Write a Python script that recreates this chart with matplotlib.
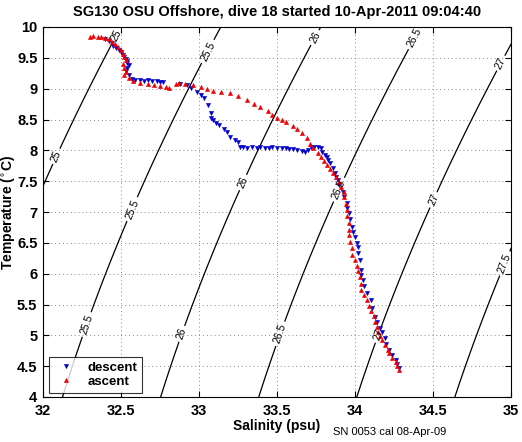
import numpy as np
import matplotlib
matplotlib.use("Agg")
import matplotlib.pyplot as plt

plt.rcParams['font.family'] = ['Liberation Sans', 'DejaVu Sans']

title = "SG130 OSU Offshore, dive 18 started 10-Apr-2011 09:04:40"
footnote = "SN 0053 cal 08-Apr-09"

# descent (surface -> deep)
desc_S = [32.40, 32.42, 32.44, 32.45, 32.47, 32.49, 32.50, 32.51, 32.52, 32.53, 32.54, 32.54, 32.55,
          32.54, 32.53, 32.55, 32.57, 32.59, 32.62, 32.65, 32.67, 32.70, 32.73, 32.75, 32.77,
          32.88, 32.92, 32.95, 32.99, 33.01, 33.03, 33.06, 33.08, 33.08, 33.09, 33.11, 33.13,
          33.16, 33.18, 33.20, 33.23, 33.25, 33.26, 33.28, 33.31, 33.34, 33.37, 33.39, 33.42,
          33.45, 33.47, 33.50, 33.53, 33.56, 33.58, 33.60, 33.63, 33.66, 33.68, 33.70, 33.72,
          33.74, 33.76, 33.78, 33.79, 33.81, 33.82, 33.83, 33.84, 33.86, 33.87, 33.88, 33.89,
          33.90, 33.92, 33.93, 33.95, 33.95, 33.96, 33.97, 33.98, 33.99, 34.00, 34.01, 34.02,
          34.02, 34.03, 34.04, 34.04, 34.05, 34.06, 34.08, 34.10, 34.11, 34.13, 34.14, 34.16,
          34.17, 34.19, 34.20, 34.22, 34.24, 34.26, 34.27, 34.28]
desc_T = [9.80, 9.77, 9.74, 9.70, 9.66, 9.63, 9.59, 9.55, 9.51, 9.48, 9.45, 9.41, 9.38,
          9.33, 9.28, 9.22, 9.16, 9.14, 9.14, 9.13, 9.14, 9.12, 9.12, 9.11, 9.11,
          9.07, 9.06, 9.01, 8.95, 8.90, 8.85, 8.74, 8.61, 8.53, 8.49, 8.45, 8.41,
          8.35, 8.30, 8.22, 8.17, 8.14, 8.06, 8.05, 8.04, 8.05, 8.04, 8.05, 8.04,
          8.04, 8.05, 8.03, 8.03, 8.04, 8.02, 8.02, 8.01, 7.99, 7.98, 8.01, 8.05,
          8.05, 8.06, 8.04, 7.97, 7.93, 7.89, 7.84, 7.79, 7.72, 7.63, 7.56, 7.52,
          7.44, 7.32, 7.24, 7.15, 7.06, 6.98, 6.88, 6.76, 6.67, 6.59, 6.50, 6.43,
          6.34, 6.22, 6.06, 5.98, 5.90, 5.80, 5.68, 5.57, 5.45, 5.30, 5.22, 5.12,
          5.05, 4.96, 4.86, 4.76, 4.68, 4.60, 4.53, 4.47]

# ascent (deep -> surface)
asc_S = [34.28, 34.27, 34.26, 34.24, 34.22, 34.21, 34.19, 34.17, 34.16, 34.15, 34.14, 34.13,
         34.12, 34.10, 34.09, 34.08, 34.06, 34.04, 34.04, 34.03, 34.02, 34.01, 34.00, 33.98,
         33.98, 33.97, 33.96, 33.96, 33.96, 33.95, 33.95, 33.94, 33.93, 33.93, 33.91, 33.90,
         33.88, 33.86, 33.84, 33.82, 33.80, 33.78, 33.76, 33.73, 33.71, 33.69, 33.66, 33.63,
         33.60, 33.56, 33.53, 33.50, 33.47, 33.44, 33.39, 33.35, 33.31, 33.25, 33.20, 33.14,
         33.09, 33.05, 33.01, 32.96, 32.91, 32.87, 32.85, 32.81, 32.79, 32.75, 32.71, 32.67,
         32.62, 32.58, 32.55, 32.52, 32.53, 32.52, 32.51, 32.53, 32.52, 32.51, 32.50, 32.48,
         32.46, 32.44, 32.42, 32.40, 32.37, 32.35, 32.32, 32.30]
asc_T = [4.43, 4.50, 4.56, 4.63, 4.71, 4.77, 4.85, 4.92, 4.99, 5.06, 5.14, 5.22,
         5.31, 5.39, 5.47, 5.58, 5.66, 5.74, 5.84, 5.95, 6.04, 6.13, 6.22, 6.31,
         6.41, 6.52, 6.62, 6.71, 6.82, 6.93, 7.03, 7.13, 7.24, 7.32, 7.40, 7.48,
         7.56, 7.63, 7.70, 7.77, 7.83, 7.89, 7.96, 8.04, 8.11, 8.20, 8.28, 8.35,
         8.40, 8.46, 8.49, 8.52, 8.58, 8.64, 8.70, 8.75, 8.82, 8.88, 8.93, 8.94,
         8.96, 9.00, 9.03, 9.06, 9.08, 9.09, 9.07, 9.01, 9.02, 9.04, 9.06, 9.07,
         9.09, 9.12, 9.17, 9.22, 9.27, 9.33, 9.40, 9.47, 9.52, 9.57, 9.62, 9.67,
         9.72, 9.76, 9.80, 9.82, 9.84, 9.83, 9.85, 9.84]

sigma_levels = [25, 25.5, 26, 26.5, 27, 27.5]
label_pos = [(32.04, 7.95), (32.46, 9.88),
             (32.25, 5.2), (33.06, 9.6), (32.62, 7.0),
             (33.29, 7.47), (33.70, 9.88), (32.92, 5.0),
             (33.90, 7.36), (34.34, 9.88), (33.55, 5.0),
             (34.16, 5.0), (34.50, 7.2), (34.93, 9.42),
             (34.90, 6.22)]


def sigma0(S, T):
    rw = (999.842594 + 6.793952e-2 * T - 9.095290e-3 * T**2 + 1.001685e-4 * T**3
          - 1.120083e-6 * T**4 + 6.536332e-9 * T**5)
    A = 0.824493 - 4.0899e-3 * T + 7.6438e-5 * T**2 - 8.2467e-7 * T**3 + 5.3875e-9 * T**4
    B = -5.72466e-3 + 1.0227e-4 * T - 1.6546e-6 * T**2
    C = 4.8314e-4
    return rw + A * S + B * S**1.5 + C * S**2 - 1000.0


fig = plt.figure(figsize=(5.22, 4.42), dpi=100)
ax = fig.add_axes([43 / 522, 45 / 442, 468 / 522, 370 / 442])

Sg, Tg = np.meshgrid(np.linspace(31.8, 35.2, 300), np.linspace(3.8, 10.2, 300))
cs = ax.contour(Sg, Tg, sigma0(Sg, Tg), levels=sigma_levels, colors='black', linewidths=0.9)
ax.clabel(cs, fmt='%g', fontsize=7.5, inline=True, inline_spacing=2, manual=label_pos)

ax.plot(desc_S, desc_T, linestyle='none', marker='v', color='#0000cc', markersize=3,
        markeredgewidth=0.4, label='descent')
ax.plot(asc_S, asc_T, linestyle='none', marker='^', color='#ee0000', markersize=3,
        markeredgewidth=0.4, label='ascent')

ax.set_xlim(32, 35)
ax.set_ylim(4, 10)
ax.set_xticks(np.arange(32, 35.01, 0.5))
ax.set_yticks(np.arange(4, 10.01, 0.5))
ax.set_xticklabels(['32', '32.5', '33', '33.5', '34', '34.5', '35'])
ax.set_yticklabels(['4', '4.5', '5', '5.5', '6', '6.5', '7', '7.5', '8', '8.5', '9', '9.5', '10'])
ax.grid(True, linestyle=(0, (1, 3)), color='#888888', linewidth=0.7)
ax.tick_params(direction='in', top=True, right=True, length=4, labelsize=10.5)
ax.tick_params(axis='x', pad=5)
ax.tick_params(axis='y', pad=4)
for lab in ax.get_xticklabels() + ax.get_yticklabels():
    lab.set_fontweight('bold')
for sp in ax.spines.values():
    sp.set_linewidth(0.8)

ax.set_xlabel('Salinity (psu)', fontsize=10, fontweight='bold', labelpad=1)
ax.set_ylabel('Temperature ($^{\\circ}$C)', fontsize=10, fontweight='bold', labelpad=0)
ax.set_title(title, fontsize=10.5, fontweight='bold', pad=8)
fig.text(390 / 522, 1 - 432 / 442, footnote, fontsize=8, ha='center', va='center')

leg = ax.legend(loc='lower left', bbox_to_anchor=(0.012, 0.012), frameon=True, fancybox=False,
                edgecolor='black', prop={'weight': 'bold', 'size': 9.5}, borderpad=0.35,
                handletextpad=0.6, labelspacing=0.15, handlelength=2.0, borderaxespad=0.0)
leg.get_frame().set_linewidth(0.8)

fig.savefig('out.png', dpi=100)
